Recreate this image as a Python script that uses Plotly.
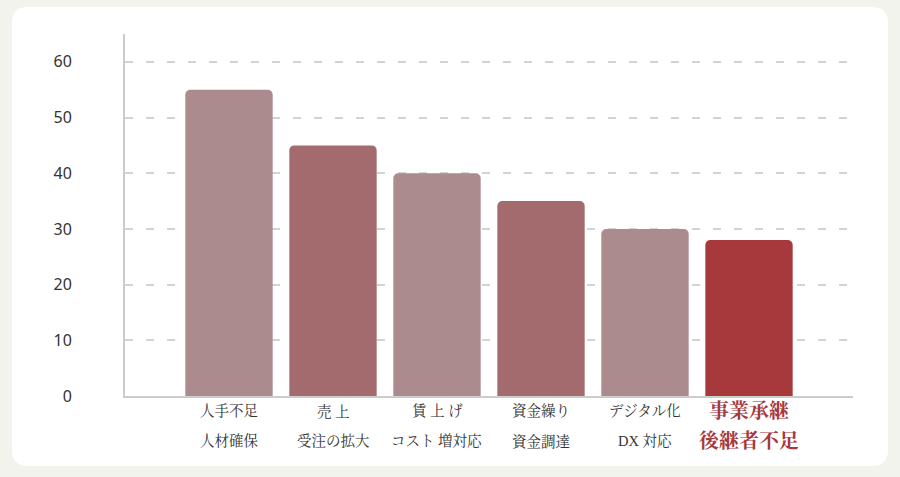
import plotly.graph_objects as go

# data
issues = ["人手不足", "売上", "賃上げ", "資金繰り", "デジタル化", "事業承継"]
line1 = ["人手不足", "売 上", "賃 上 げ", "資金繰り", "デジタル化", "事業承継"]
line2 = ["人材確保", "受注の拡大", "コスト 増対応", "資金調達", "DX 対応", "後継者不足"]
values = [55, 45, 40, 35, 30, 28]
highlight = "事業承継"

ROSE = "#ab8b8d"
MAUVE = "#a46b6e"
RED = "#a7383c"
bar_colors = [RED if c == highlight else (ROSE if i % 2 == 0 else MAUVE)
              for i, c in enumerate(issues)]

W, H = 900, 477
ml, mr, mt, mb = 125, 47, 34, 81
pw, ph = W - ml - mr, H - mt - mb


def px_to_paper(x, y):
    return (x - ml) / pw, (H - mb - y) / ph


def rounded_rect(x0, y0, x1, y1, r):
    def p(x, y):
        a, b = px_to_paper(x, y)
        return f"{a:.5f},{b:.5f}"
    pts = [
        "M" + p(x0 + r, y0),
        "L" + p(x1 - r, y0),
        "Q" + p(x1, y0) + " " + p(x1, y0 + r),
        "L" + p(x1, y1 - r),
        "Q" + p(x1, y1) + " " + p(x1 - r, y1),
        "L" + p(x0 + r, y1),
        "Q" + p(x0, y1) + " " + p(x0, y1 - r),
        "L" + p(x0, y0 + r),
        "Q" + p(x0, y0) + " " + p(x0 + r, y0),
    ]
    return " ".join(pts) + " Z"


fig = go.Figure(go.Bar(
    x=issues, y=values,
    marker=dict(color=bar_colors, line=dict(width=0)),
    hoverinfo="skip",
))

label_font = "Liberation Serif, Noto Serif CJK JP, Noto Sans CJK JP, serif"
annotations = []
for c, a, b in zip(issues, line1, line2):
    hot = c == highlight
    f = dict(family=label_font, size=20 if hot else 14.5,
             color=RED if hot else "#333333")
    t1 = f"<b>{a}</b>" if hot else a
    t2 = f"<b>{b}</b>" if hot else b
    annotations.append(dict(x=c, y=0, xref="x", yref="y", text=t1, showarrow=False,
                            yanchor="middle", yshift=-15, font=f))
    annotations.append(dict(x=c, y=0, xref="x", yref="y", text=t2, showarrow=False,
                            yanchor="middle", yshift=-45, font=f))

fig.update_layout(
    width=W, height=H,
    margin=dict(l=ml, r=mr, t=mt, b=mb),
    paper_bgcolor="#f3f3ee",
    plot_bgcolor="rgba(0,0,0,0)",
    showlegend=False,
    bargap=0.16,
    barcornerradius=5,
    shapes=[dict(type="path", xref="paper", yref="paper", layer="below",
                 path=rounded_rect(12, 7, 888, 466, 16),
                 fillcolor="white", line=dict(width=0))],
    annotations=annotations,
    xaxis=dict(
        type="category", range=[-1, 6], showticklabels=False,
        showgrid=False, zeroline=False, ticks="",
        showline=True, linecolor="#cccccc", linewidth=2,
    ),
    yaxis=dict(
        range=[0, 65], dtick=10, tick0=0,
        showgrid=True, gridcolor="#d3d3d3", gridwidth=1.5, griddash="8px,13px",
        zeroline=False, showline=True, linecolor="#cccccc", linewidth=2,
        ticks="", ticklabelstandoff=48,
        tickfont=dict(family="Noto Sans, Open Sans, sans-serif", size=16, color="#333333"),
    ),
)

fig.write_html("out.html", config={"displayModeBar": False},
               post_script="document.body.style.margin='0';")
